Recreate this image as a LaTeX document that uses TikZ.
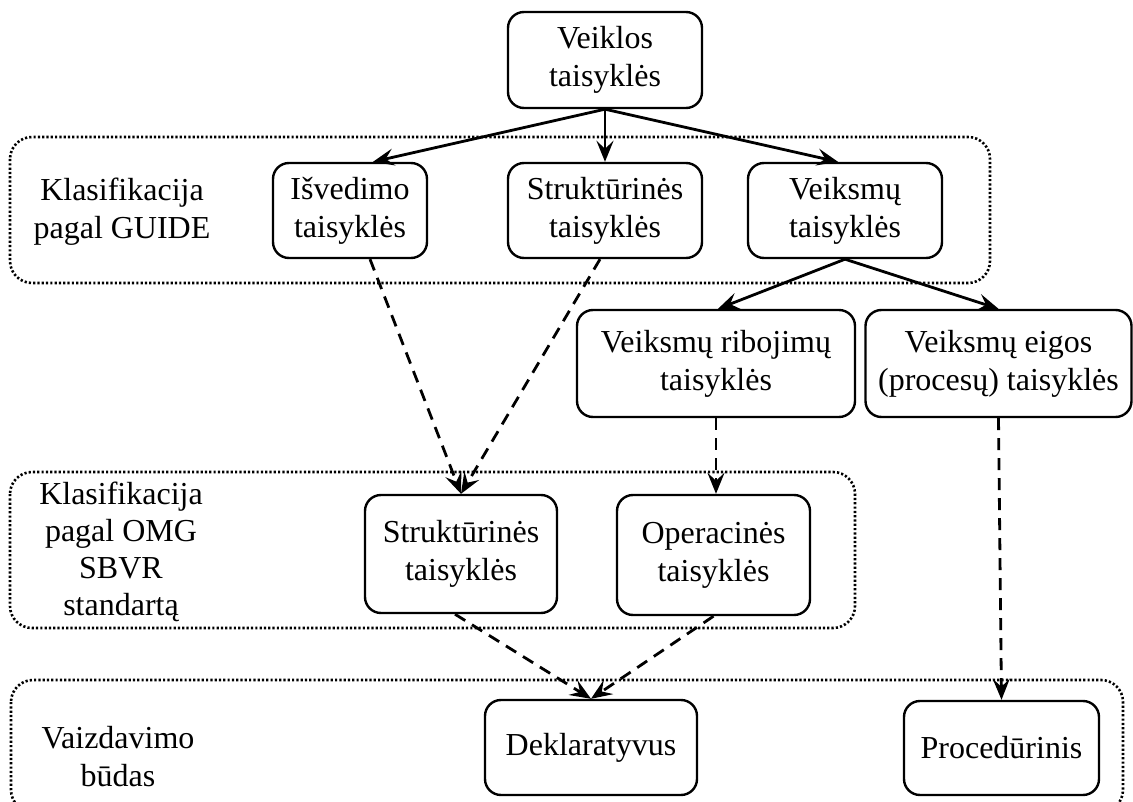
\documentclass[tikz,border=0pt]{standalone}
\usepackage{fontspec}
\setmainfont{Liberation Serif}
\usetikzlibrary{arrows.meta}
\begin{document}
\begin{tikzpicture}[x=1pt,y=-1pt,
  txt/.style={font=\fontsize{32}{38}\selectfont, align=center, inner sep=0pt},
  rulebox/.style={txt, draw, line width=2.4pt, rounded corners=16pt},
  group/.style={line width=2.6pt, dash pattern=on 2.2pt off 2.1pt, rounded corners=22pt},
  tip/.style={-{Stealth[length=21pt,width=17pt,inset=8pt]}},
  solidarrow/.style={line width=2.8pt, tip},
  dasharrow/.style={line width=2.8pt, dash pattern=on 12pt off 8pt, tip}
]
\useasboundingbox (0,0) rectangle (1133,802);

% dotted classification bands
\draw[group] (10,137) rectangle (990,283);
\draw[group] (10,472) rectangle (855,628);
\draw[group] (11,680) rectangle (1123,812);

% band captions
\node[txt] (lg1) at (122,212) {Klasifikacija\\pagal GUIDE};
\node[txt, font=\fontsize{32}{37}\selectfont] (lg2) at (121,552) {Klasifikacija\\pagal OMG\\SBVR\\standartą};
\node[txt] (lg3) at (118,757) {Vaizdavimo\\būdas};

% rule boxes
\node[rulebox, minimum width=194pt, minimum height=96pt] (veik) at (605,60) {Veiklos\\taisyklės};
\node[rulebox, minimum width=154pt, minimum height=95pt] (isv) at (350,210.5) {Išvedimo\\taisyklės};
\node[rulebox, minimum width=194pt, minimum height=95pt] (str1) at (605,210.5) {Struktūrinės\\taisyklės};
\node[rulebox, minimum width=194pt, minimum height=95pt] (vks) at (845,210.5) {Veiksmų\\taisyklės};
\node[rulebox, minimum width=278pt, minimum height=107pt] (rib) at (716,363.5) {Veiksmų ribojimų\\taisyklės};
\node[rulebox, minimum width=266pt, minimum height=107pt] (eig) at (998.5,363.5) {Veiksmų eigos\\(procesų) taisyklės};
\node[rulebox, minimum width=192pt, minimum height=118pt] (str2) at (461,554) {Struktūrinės\\taisyklės};
\node[rulebox, minimum width=193pt, minimum height=120pt] (op) at (713.5,555) {Operacinės\\taisyklės};
\node[rulebox, minimum width=212pt, minimum height=95pt] (dek) at (591,747.5) {Deklaratyvus};
\node[rulebox, minimum width=195pt, minimum height=94pt] (proc) at (1001.5,748) {Procedūrinis};

% specialisation arrows
\draw[solidarrow] (veik.south) -- ([xshift=23pt]isv.north);
\draw[solidarrow] (veik.south) -- (str1.north);
\draw[solidarrow] (veik.south) -- ([xshift=-7pt]vks.north);
\draw[solidarrow] (vks.south) -- ([xshift=2pt]rib.north);
\draw[solidarrow] (vks.south) -- (eig.north);

% correspondence arrows
\draw[dasharrow] ([xshift=20pt]isv.south) -- (str2.north);
\draw[dasharrow] ([xshift=-5pt]str1.south) -- (str2.north);
\draw[dasharrow] (rib.south) -- (rib.south |- op.north);
\draw[dasharrow] (eig.south) -- (proc.north);
\draw[dasharrow] ([xshift=-6pt]str2.south) -- (dek.north);
\draw[dasharrow] (op.south) -- (dek.north);
\end{tikzpicture}
\end{document}
